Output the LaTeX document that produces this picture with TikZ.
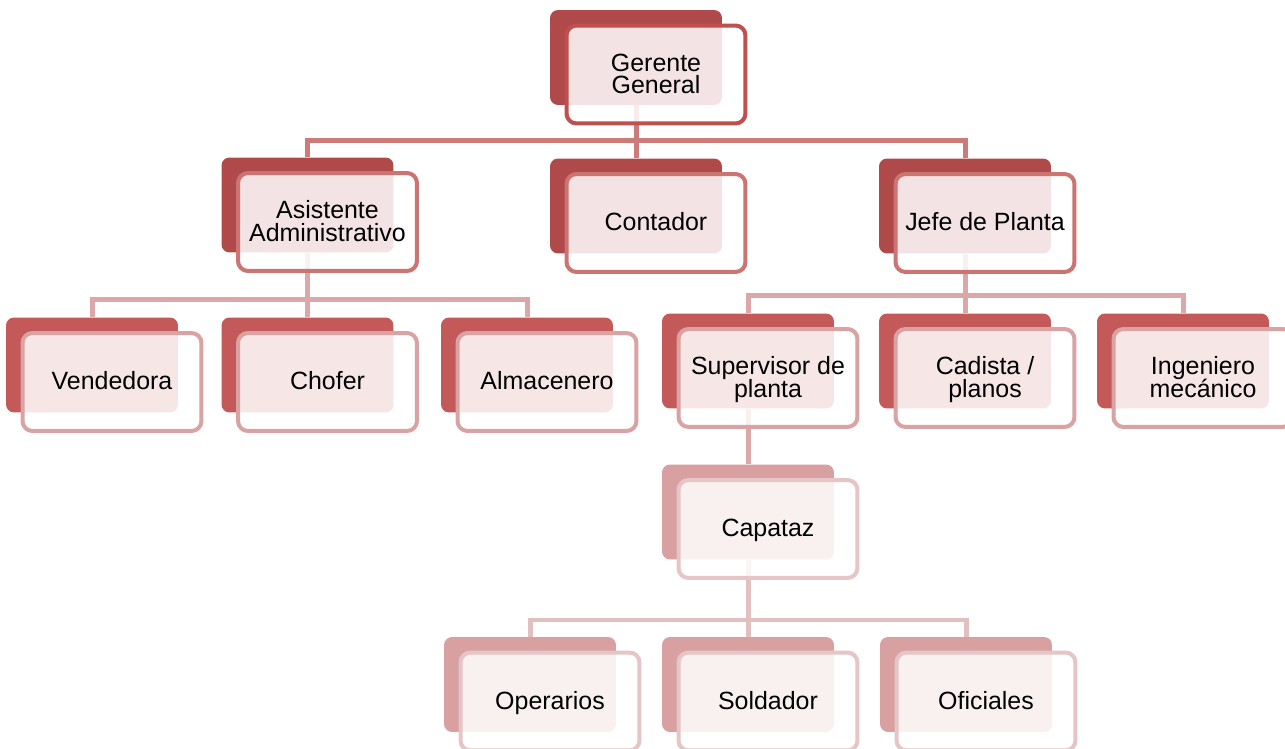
\documentclass[tikz,border=0pt]{standalone}
\usepackage{fontspec}
\setmainfont{Liberation Sans}
\usetikzlibrary{calc}
\pgfdeclarelayer{bg}
\pgfsetlayers{bg,main}
\definecolor{dkA}{HTML}{B0494A}
\definecolor{outA}{HTML}{C0504D}
\definecolor{outB}{HTML}{CB7472}
\definecolor{dkC}{HTML}{C4595A}
\definecolor{outC}{HTML}{D9A3A3}
\definecolor{dkD}{HTML}{D9A0A1}
\definecolor{outD}{HTML}{E6C5C6}
\definecolor{connA}{HTML}{CD7B7A}
\definecolor{connB}{HTML}{DBA7A7}
\definecolor{connC}{HTML}{E3C0C0}
\newcommand\lnph{\rule[-3.2pt]{0pt}{15.5pt}}
\tikzset{
  backbox/.style={rectangle, rounded corners=0.16cm, minimum width=3.44cm, minimum height=1.9cm, inner sep=0pt, draw=none},
  frontbox/.style={rectangle, rounded corners=0.2cm, minimum width=3.58cm, minimum height=1.96cm, line width=0.08cm, fill=white, fill opacity=0.85, text opacity=1, align=center, inner sep=0pt, font=\fontsize{14.2}{12.9}\selectfont},
  backA/.style={backbox, fill=dkA},
  backC/.style={backbox, fill=dkC},
  backD/.style={backbox, fill=dkD},
  frontA/.style={frontbox, draw=outA},
  frontB/.style={frontbox, draw=outB},
  frontC/.style={frontbox, draw=outC},
  frontD/.style={frontbox, draw=outD},
  conn/.style={line width=0.1cm},
  connAs/.style={conn, draw=connA},
  connBs/.style={conn, draw=connB},
  connCs/.style={conn, draw=connC}
}
\begin{document}
\lineskiplimit=-20pt\relax
\lineskip=0pt\relax
\begin{tikzpicture}[x=0.02cm, y=-0.02cm]
\useasboundingbox (0,0) rectangle (1285,749);
\clip (0,0) rectangle (1285,749);
% level 0
\node[backA] (gB) at (636,57.5) {};
\node[frontA] (g) at ($(gB)+(20,17)$) {\lnph Gerente\\\lnph General};
% level 1
\node[backA] (aB) at (307.5,205) {};
\node[frontB] (a) at ($(aB)+(20,17)$) {\lnph Asistente\\\lnph Administrativo};
\node[backA] (cB) at (636,206) {};
\node[frontB] (c) at ($(cB)+(20,17)$) {\lnph Contador};
\node[backA] (jB) at (965,206) {};
\node[frontB] (j) at ($(jB)+(20,17)$) {\lnph Jefe de Planta};
% level 2
\node[backC] (vB) at (92,365) {};
\node[frontC] (v) at ($(vB)+(20,17)$) {\lnph Vendedora};
\node[backC] (chB) at (307.5,365) {};
\node[frontC] (ch) at ($(chB)+(20,17)$) {\lnph Chofer};
\node[backC] (alB) at (527,365) {};
\node[frontC] (al) at ($(alB)+(20,17)$) {\lnph Almacenero};
\node[backC] (sB) at (748,361) {};
\node[frontC] (s) at ($(sB)+(20,17)$) {\lnph Supervisor de\\\lnph planta};
\node[backC] (caB) at (965,361) {};
\node[frontC] (ca) at ($(caB)+(20,17)$) {\lnph Cadista /\\\lnph planos};
\node[backC] (iB) at (1183,361) {};
\node[frontC] (i) at ($(iB)+(20,17)$) {\lnph Ingeniero\\\lnph mecánico};
% level 3
\node[backD] (kB) at (748,512) {};
\node[frontD] (k) at ($(kB)+(20,17)$) {\lnph Capataz};
% level 4
\node[backD] (oB) at (530,684.5) {};
\node[frontD] (o) at ($(oB)+(20,17)$) {\lnph Operarios};
\node[backD] (soB) at (748,684.5) {};
\node[frontD] (so) at ($(soB)+(20,17)$) {\lnph Soldador};
\node[backD] (ofB) at (966,684.5) {};
\node[frontD] (of) at ($(ofB)+(20,17)$) {\lnph Oficiales};
% connectors
\begin{pgfonlayer}{bg}
\coordinate (bus0) at (636,141);
\draw[connAs] (gB.south) -- (bus0);
\draw[connAs] (aB.north) |- (bus0);
\draw[connAs] (cB.north) |- (bus0);
\draw[connAs] (jB.north) |- (bus0);
\coordinate (bus1) at (307.5,300);
\draw[connBs] (aB.south) -- (bus1);
\draw[connBs] (vB.north) |- (bus1);
\draw[connBs] (chB.north) |- (bus1);
\draw[connBs] (alB.north) |- (bus1);
\coordinate (bus2) at (965,296);
\draw[connBs] (jB.south) -- (bus2);
\draw[connBs] (sB.north) |- (bus2);
\draw[connBs] (caB.north) |- (bus2);
\draw[connBs] (iB.north) |- (bus2);
\draw[connBs] (sB.south) -- (kB.north);
\coordinate (bus3) at (748,620);
\draw[connCs] (kB.south) -- (bus3);
\draw[connCs] (oB.north) |- (bus3);
\draw[connCs] (soB.north) |- (bus3);
\draw[connCs] (ofB.north) |- (bus3);
\end{pgfonlayer}
\end{tikzpicture}
\end{document}
